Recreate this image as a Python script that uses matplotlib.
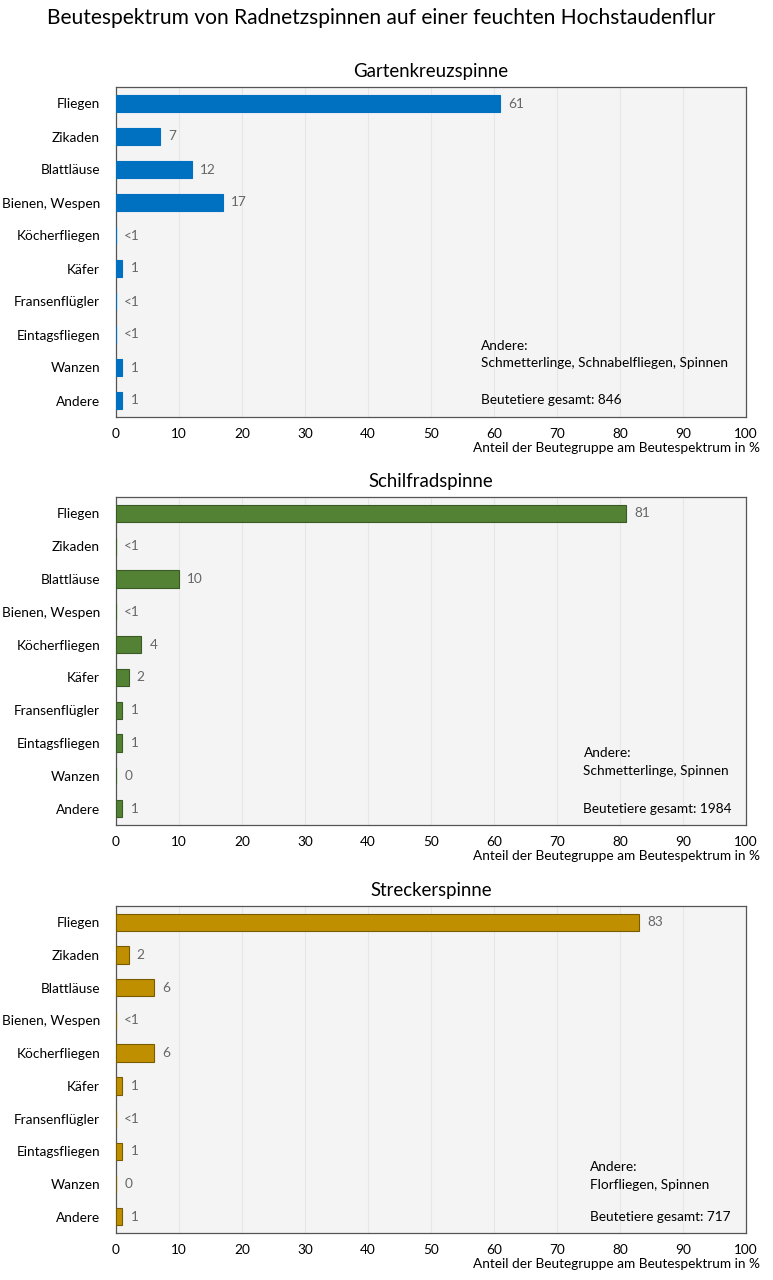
import matplotlib
matplotlib.use("Agg")
import matplotlib.pyplot as plt

plt.rcParams['font.family'] = ['Lato', 'DejaVu Sans']

# categories (top to bottom)
categories = ["Fliegen", "Zikaden", "Blattläuse", "Bienen, Wespen", "Köcherfliegen",
              "Käfer", "Fransenflügler", "Eintagsfliegen", "Wanzen", "Andere"]

# shares in percent as shown in the chart ("<1" draws no bar)
garten = ["61", "7", "12", "17", "<1", "1", "<1", "<1", "1", "1"]
schilf = ["81", "<1", "10", "<1", "4", "2", "1", "1", "0", "1"]
strecker = ["83", "2", "6", "<1", "6", "1", "<1", "1", "0", "1"]

titles = ["Gartenkreuzspinne", "Schilfradspinne", "Streckerspinne"]
andere = ["Schmetterlinge, Schnabelfliegen, Spinnen", "Schmetterlinge, Spinnen", "Florfliegen, Spinnen"]
gesamt = [846, 1984, 717]

colors = ["#0070c0", "#548235", "#bf8f00"]
edges = ["#0070c0", "#3a5a24", "#7a5c00"]
text_x = [58, 74.2, 75.3]
andere_y = [(7.35, 7.86), (7.3, 7.85), (7.48, 8.03)]

axes_pos = [
    [116/773, 1 - 417/1280, 630/773, 330/1280],
    [116/773, 1 - 825/1280, 630/773, 328/1280],
    [116/773, 1 - 1233/1280, 630/773, 327/1280],
]

FS = 9.8


def to_num(s):
    if s.startswith("<"):
        return 0
    return float(s)


fig = plt.figure(figsize=(7.73, 12.8), dpi=100)
fig.text(0.493, 1 - 18/1280, "Beutespektrum von Radnetzspinnen auf einer feuchten Hochstaudenflur",
         ha="center", va="center", fontsize=15.1)

for i, data in enumerate([garten, schilf, strecker]):
    ax = fig.add_axes(axes_pos[i])
    vals = [to_num(v) for v in data]
    ypos = list(range(len(categories)))
    ax.barh(ypos, vals, height=0.53, color=colors[i], edgecolor=edges[i], linewidth=0.8, zorder=3)
    for y, v, lab in zip(ypos, vals, data):
        ax.text(v + 1.3, y, lab, ha="left", va="center", fontsize=FS, color="#666666", zorder=4)

    ax.set_xlim(0, 100)
    ax.set_ylim(len(categories) - 0.5, -0.5)
    ax.set_yticks(ypos)
    ax.set_yticklabels(categories, fontsize=FS)
    ax.set_xticks(range(0, 101, 10))
    ax.tick_params(axis="both", length=0, labelsize=FS)
    ax.tick_params(axis="y", pad=11.5)
    ax.tick_params(axis="x", pad=8)
    ax.set_facecolor("#f4f4f4")
    ax.grid(axis="x", color="#e6e6e6", linewidth=0.8, zorder=0)
    for s in ax.spines.values():
        s.set_color("#555555")
        s.set_linewidth(0.9)

    ax.set_title(titles[i], fontsize=13.4, pad=7)
    ax.set_xlabel("Anteil der Beutegruppe am Beutespektrum in %", fontsize=FS, labelpad=2)
    ax.xaxis.set_label_coords(1.022, -0.075)
    ax.xaxis.label.set_horizontalalignment("right")

    ax.text(text_x[i], andere_y[i][0], "Andere:", fontsize=FS, va="center", ha="left", zorder=5)
    ax.text(text_x[i], andere_y[i][1], andere[i], fontsize=FS, va="center", ha="left", zorder=5)
    ax.text(text_x[i], 9, "Beutetiere gesamt: %d" % gesamt[i], fontsize=FS, va="center", ha="left", zorder=5)

fig.savefig("out.png", dpi=100)
